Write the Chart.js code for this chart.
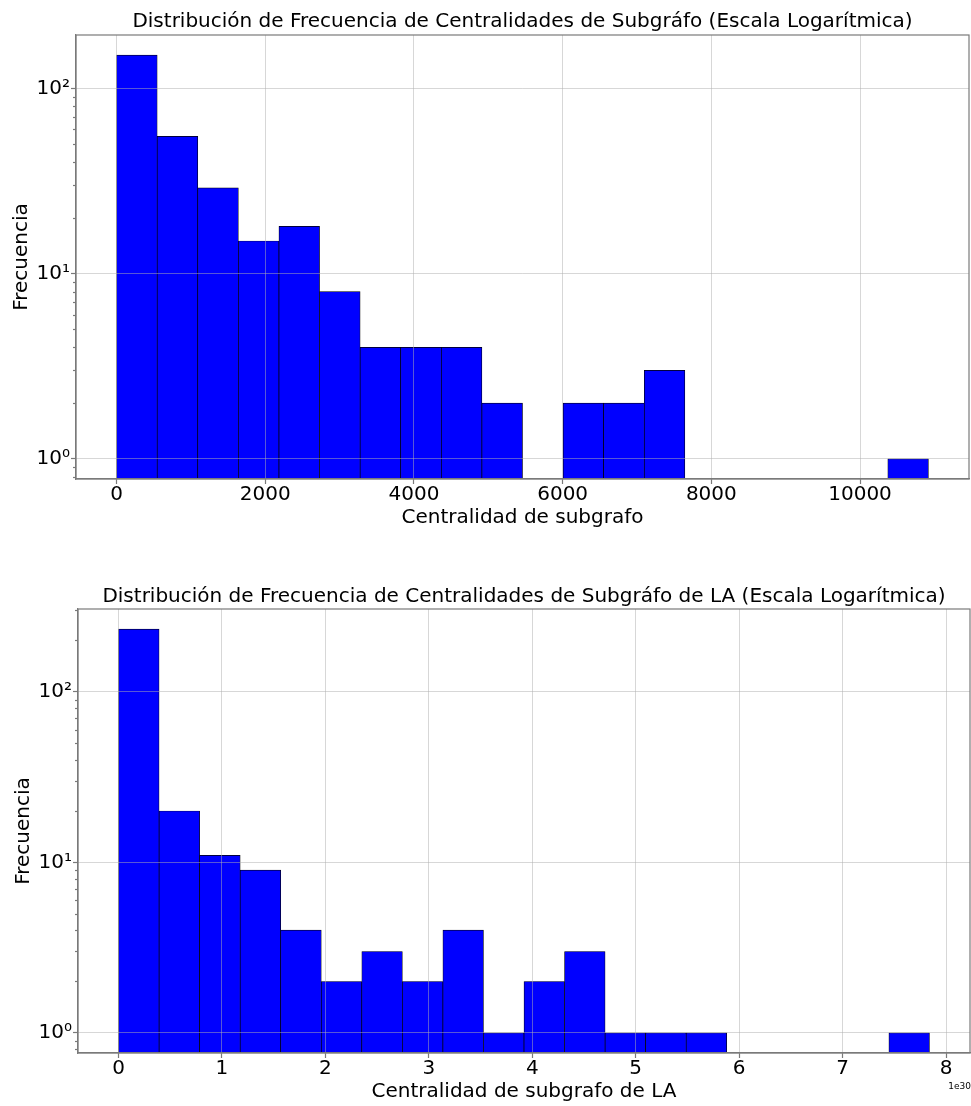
<!DOCTYPE html>
<html>
<head>
<meta charset="utf-8">
<script src="https://cdn.jsdelivr.net/npm/chart.js@4.4.0/dist/chart.umd.min.js"></script>
<style>
  html, body { margin: 0; padding: 0; background: #fff; }
  .box { position: absolute; left: 0; width: 971px; height: 553px; }
</style>
</head>
<body>
<div class="box" style="top:0"><canvas id="top" width="971" height="553"></canvas></div>
<div class="box" style="top:553px"><canvas id="bottom" width="971" height="553"></canvas></div>
<script>
// Histograma 1: centralidad de subgrafo (20 bins de ancho ~546)
const subgrafoBins = [273, 819, 1365, 1911, 2457, 3003, 3549, 4095, 4641, 5187,
                      5733, 6279, 6825, 7371, 7917, 8463, 9009, 9555, 10101, 10647];
const subgrafoCounts = [151, 55, 29, 15, 18, 8, 4, 4, 4, 2, 0, 2, 2, 3, 0, 0, 0, 0, 0, 1];
const subgrafoEdges = [0, 10920];
const subgrafoTicks = [0, 2000, 4000, 6000, 8000, 10000];

// Histograma 2: centralidad de subgrafo de LA (valores en unidades de 1e30)
const laBins = [0.196, 0.588, 0.98, 1.372, 1.764, 2.156, 2.548, 2.94, 3.332, 3.724,
                4.116, 4.508, 4.9, 5.292, 5.684, 6.076, 6.468, 6.86, 7.252, 7.644];
const laCounts = [233, 20, 11, 9, 4, 2, 3, 2, 4, 1, 2, 3, 1, 1, 1, 0, 0, 0, 0, 1];
const laEdges = [0, 7.84];
const laTicks = [0, 1, 2, 3, 4, 5, 6, 7, 8];

const logTicks = [1, 10, 100];
const sup = { 0: '\u2070', 1: '\u00b9', 2: '\u00b2', 3: '\u00b3' };

const FONT = 'DejaVu Sans';
const spineColor = '#7a7a7a';
const gridColor = 'rgba(176,176,176,0.5)';

// caja completa, ticks menores del eje log y texto de offset
const boxPlugin = {
  id: 'box',
  afterDraw(chart, args, opts) {
    const { ctx, chartArea: a } = chart;
    const y = chart.scales.y;
    ctx.save();
    ctx.strokeStyle = spineColor;
    ctx.lineWidth = 1.2;
    for (let e = -1; e <= 3; e++) {
      for (let m = 2; m <= 9; m++) {
        const v = m * Math.pow(10, e);
        if (v < y.min || v > y.max) continue;
        const py = Math.round(y.getPixelForValue(v)) + 0.5;
        ctx.beginPath();
        ctx.moveTo(a.left - 3, py);
        ctx.lineTo(a.left, py);
        ctx.stroke();
      }
    }
    ctx.strokeRect(a.left, a.top, a.right - a.left, a.bottom - a.top);
    if (opts.offsetText) {
      ctx.font = '9px "' + FONT + '"';
      ctx.fillStyle = '#000';
      ctx.textAlign = 'right';
      ctx.fillText(opts.offsetText, a.right + 1, a.bottom + 36);
    }
    ctx.restore();
  }
};

function makeHist(id, cfg) {
  const span = Math.log10(Math.max(...cfg.counts));
  const xPad = (cfg.edges[1] - cfg.edges[0]) * 0.05;
  const tickFont = { family: FONT, size: 20, lineHeight: 1 };
  const labelFont = { family: FONT, size: 20 };

  new Chart(document.getElementById(id), {
    type: 'bar',
    data: {
      datasets: [{
        data: cfg.bins.map((b, i) => ({ x: b, y: cfg.counts[i] > 0 ? cfg.counts[i] : null })),
        backgroundColor: '#0000ff',
        borderColor: '#000',
        borderWidth: 0.7,
        borderSkipped: false,
        barPercentage: 1,
        categoryPercentage: 1
      }]
    },
    options: {
      responsive: false,
      animation: false,
      layout: { padding: { left: 0, right: cfg.padRight, top: 0, bottom: cfg.padBottom } },
      plugins: {
        legend: { display: false },
        tooltip: { enabled: false },
        title: {
          display: true,
          text: cfg.title,
          fullSize: false,
          color: '#000',
          font: { family: FONT, size: 20, weight: 'normal' },
          padding: { top: cfg.titleTop, bottom: cfg.titleBottom }
        },
        box: { offsetText: cfg.offsetText }
      },
      scales: {
        x: {
          type: 'linear',
          offset: false,
          min: cfg.edges[0] - xPad,
          max: cfg.edges[1] + xPad,
          afterBuildTicks: s => { s.ticks = cfg.ticks.map(v => ({ value: v })); },
          afterFit: s => { s.height = 52; },
          ticks: { font: tickFont, color: '#000', padding: 1, maxRotation: 0, autoSkip: false,
                   callback: v => String(v) },
          grid: { offset: false, color: gridColor, lineWidth: 1, z: 1, tickLength: 5,
                  tickColor: spineColor, tickWidth: 1.2 },
          border: { color: spineColor, width: 1.2, z: 2 },
          title: { display: true, text: cfg.xLabel, color: '#000', font: labelFont,
                   padding: { top: 0, bottom: 1 } }
        },
        y: {
          type: 'logarithmic',
          min: Math.pow(10, -0.05 * span),
          max: Math.pow(10, 1.05 * span),
          afterBuildTicks: s => { s.ticks = logTicks.map(v => ({ value: v, major: true })); },
          afterFit: s => { s.width = cfg.yWidth; },
          ticks: { font: tickFont, color: '#000', padding: 1,
                   callback: v => '10' + sup[Math.round(Math.log10(v))] },
          grid: { color: gridColor, lineWidth: 1, z: 1, tickLength: 5, tickColor: spineColor, tickWidth: 1.2 },
          border: { color: spineColor, width: 1.2, z: 2 },
          title: { display: true, text: 'Frecuencia', color: '#000', font: labelFont,
                   padding: { top: cfg.yTitlePad, bottom: 0 } }
        }
      }
    },
    plugins: [boxPlugin]
  });
}

makeHist('top', {
  bins: subgrafoBins, counts: subgrafoCounts, edges: subgrafoEdges, ticks: subgrafoTicks,
  title: 'Distribución de Frecuencia de Centralidades de Subgráfo (Escala Logarítmica)',
  xLabel: 'Centralidad de subgrafo',
  titleTop: 10, titleBottom: 1, padRight: 2, padBottom: 22, yWidth: 76, yTitlePad: 10,
  offsetText: ''
});

makeHist('bottom', {
  bins: laBins, counts: laCounts, edges: laEdges, ticks: laTicks,
  title: 'Distribución de Frecuencia de Centralidades de Subgráfo de LA (Escala Logarítmica)',
  xLabel: 'Centralidad de subgrafo de LA',
  titleTop: 32, titleBottom: 0, padRight: 1, padBottom: 1, yWidth: 78, yTitlePad: 12,
  offsetText: '1e30'
});
</script>
</body>
</html>
